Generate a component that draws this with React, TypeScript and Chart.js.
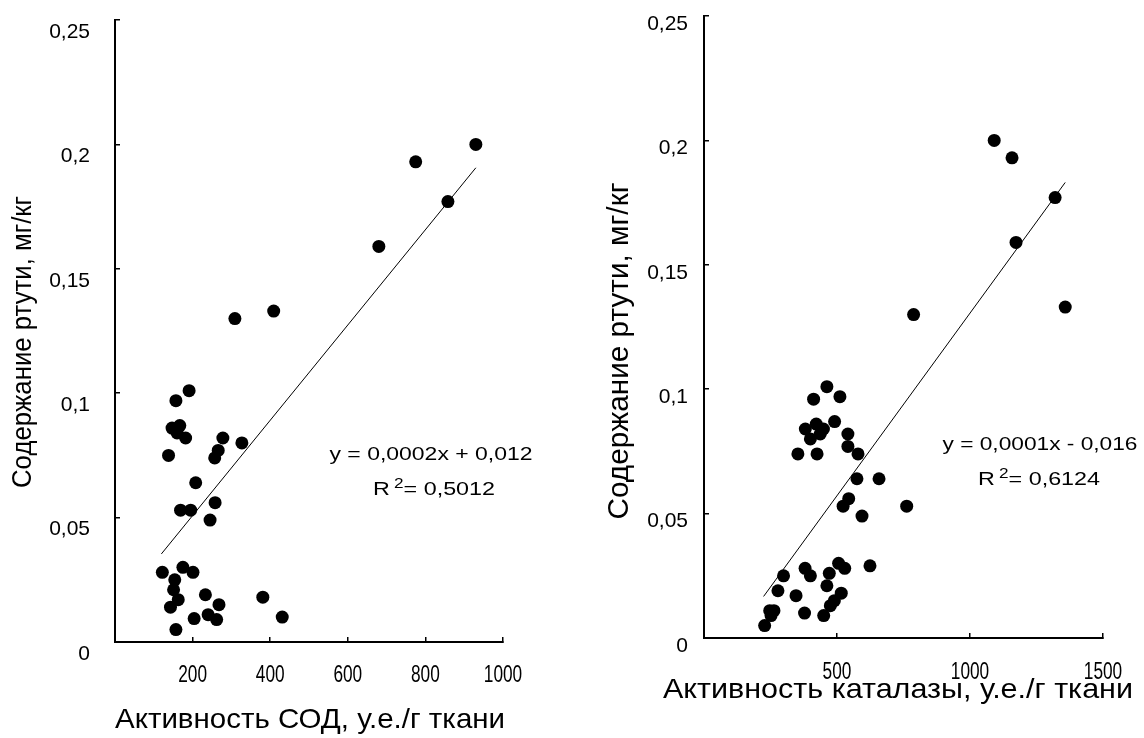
import React, { useEffect, useRef } from "react";
import { Chart, registerables } from "chart.js";

Chart.register(...registerables);

// ---------- DATA ----------
const sodX = [930, 775, 858, 680, 309, 409, 191, 157, 147, 167, 160, 182, 138, 278, 266, 257, 327, 208, 169, 195, 258, 245, 122, 175, 201, 154, 151, 163, 143, 233, 268, 240, 262, 204, 157, 381, 431];
const sodY = [0.2, 0.193, 0.177, 0.159, 0.13, 0.133, 0.101, 0.097, 0.086, 0.087, 0.084, 0.082, 0.075, 0.082, 0.077, 0.074, 0.08, 0.064, 0.053, 0.053, 0.056, 0.049, 0.028, 0.03, 0.028, 0.025, 0.021, 0.017, 0.014, 0.019, 0.015, 0.011, 0.009, 0.0094, 0.005, 0.018, 0.01];
const sodTrendX = [119.5, 930];
const sodTrendY = [0.0354, 0.1906];

const catX = [1091, 1158, 1320, 1173, 1358, 788, 462, 412, 511, 491, 381, 422, 449, 400, 437, 541, 541, 579, 353, 425, 575, 658, 544, 523, 762, 594, 380, 400, 506, 529, 624, 299, 471, 462, 278, 346, 516, 490, 475, 247, 263, 252, 378, 450, 228];
const catY = [0.2, 0.193, 0.177, 0.159, 0.133, 0.13, 0.101, 0.096, 0.097, 0.087, 0.084, 0.086, 0.084, 0.08, 0.082, 0.082, 0.077, 0.074, 0.074, 0.074, 0.064, 0.064, 0.056, 0.053, 0.053, 0.049, 0.028, 0.025, 0.03, 0.028, 0.029, 0.025, 0.026, 0.021, 0.019, 0.017, 0.018, 0.015, 0.013, 0.011, 0.011, 0.009, 0.01, 0.009, 0.005];
const catTrendX = [224, 1358];
const catTrendY = [0.0167, 0.1831];

const yTickValues = [0, 0.05, 0.1, 0.15, 0.2, 0.25];
const yTickLabels = ["0", "0,05", "0,1", "0,15", "0,2", "0,25"];
const sodXTickValues = [0, 200, 400, 600, 800, 1000];
const sodXTickLabels = ["", "200", "400", "600", "800", "1000"];
const catXTickValues = [0, 500, 1000, 1500];
const catXTickLabels = ["", "500", "1000", "1500"];

const yTitle = "Содержание ртути, мг/кг";
const sodXTitle = "Активность СОД, у.е./г ткани";
const catXTitle = "Активность каталазы, у.е./г ткани";
const sodEquation = "y = 0,0002x + 0,012";
const sodR2 = "0,5012";
const catEquation = "y = 0,0001x - 0,016";
const catR2 = "0,6124";

// ---------- RENDERING ----------
const FONT = 'Arial, "Liberation Sans", sans-serif';

type TextItem = {
  kind: "text" | "r2";
  text: string;
  x: number;
  y: number;
  size: number;
  width: number;
  rotate?: boolean;
};

function drawTextItem(ctx: CanvasRenderingContext2D, t: TextItem) {
  ctx.save();
  ctx.fillStyle = "#000";
  ctx.textBaseline = "middle";
  ctx.textAlign = "left";
  ctx.translate(t.x, t.y);
  if (t.rotate) ctx.rotate(-Math.PI / 2);
  if (t.kind === "text") {
    ctx.font = `${t.size}px ${FONT}`;
    const w = ctx.measureText(t.text).width;
    ctx.scale(t.width / w, 1);
    ctx.fillText(t.text, -w / 2, 0);
  } else {
    const big = `${t.size}px ${FONT}`;
    const small = `${Math.round(t.size * 0.75)}px ${FONT}`;
    ctx.font = big;
    const wR = ctx.measureText("R").width;
    const gap = t.size * 0.18;
    const rest = "= " + t.text;
    const wRest = ctx.measureText(rest).width;
    ctx.font = small;
    const w2 = ctx.measureText("2").width;
    const total = wR + gap + w2 + wRest;
    ctx.scale(t.width / total, 1);
    let cx = -total / 2;
    ctx.font = big;
    ctx.fillText("R", cx, 0);
    cx += wR + gap;
    ctx.font = small;
    ctx.fillText("2", cx, -t.size * 0.32);
    cx += w2;
    ctx.font = big;
    ctx.fillText(rest, cx, 0);
  }
  ctx.restore();
}

type PanelCfg = {
  id: string;
  offsetLeft: number;
  canvasWidth: number;
  areaLeft: number;
  areaRight: number;
  areaTop: number;
  areaBottom: number;
  xs: number[];
  ys: number[];
  trendX: number[];
  trendY: number[];
  xMax: number;
  xTickValues: number[];
  xTickLabels: string[];
  xLabelDy: number;
  xLabelSize: number;
  xLabelCondense: number;
  yTickPadding: number;
  yLabelOffset: number;
  texts: TextItem[];
};

const H = 738;

function Panel({ cfg }: { cfg: PanelCfg }) {
  const ref = useRef<HTMLCanvasElement>(null);
  useEffect(() => {
    const canvas = ref.current!;
    const textPlugin = {
      id: "texts_" + cfg.id,
      afterDraw(chart: any) {
        const ctx = chart.ctx as CanvasRenderingContext2D;
        // x tick labels, placed through the x scale
        const xs = chart.scales.x;
        ctx.save();
        ctx.fillStyle = "#000";
        ctx.font = `${cfg.xLabelSize}px ${FONT}`;
        ctx.textBaseline = "middle";
        ctx.textAlign = "center";
        cfg.xTickValues.forEach((v, i) => {
          const label = cfg.xTickLabels[i];
          if (!label) return;
          const px = xs.getPixelForValue(v);
          ctx.save();
          ctx.translate(px, xs.top + cfg.xLabelDy);
          ctx.scale(cfg.xLabelCondense, 1);
          ctx.fillText(label, 0, 0);
          ctx.restore();
        });
        ctx.restore();
        cfg.texts.forEach((t) => drawTextItem(ctx, t));
      },
    };
    const points = cfg.xs.map((x, i) => ({ x, y: cfg.ys[i] }));
    const trend = cfg.trendX.map((x, i) => ({ x, y: cfg.trendY[i] }));
    const chart = new Chart(canvas, {
      type: "scatter",
      data: {
        datasets: [
          {
            data: trend,
            showLine: true,
            borderColor: "#000",
            borderWidth: 1,
            pointRadius: 0,
            fill: false,
          } as any,
          {
            data: points,
            backgroundColor: "#000",
            borderColor: "#000",
            borderWidth: 0,
            pointRadius: 6.5,
          },
        ],
      },
      options: {
        responsive: false,
        animation: false,
        events: [],
        layout: {
          padding: {
            left: 0,
            top: cfg.areaTop,
            right: cfg.canvasWidth - cfg.areaRight,
            bottom: 0,
          },
        },
        plugins: {
          legend: { display: false },
          tooltip: { enabled: false },
        },
        scales: {
          x: {
            type: "linear",
            position: "bottom",
            min: 0,
            max: cfg.xMax,
            afterBuildTicks: (s: any) => {
              s.ticks = cfg.xTickValues.map((v) => ({ value: v }));
            },
            afterFit: (s: any) => {
              s.height = H - cfg.areaBottom;
              s.paddingLeft = 0;
              s.paddingRight = 0;
              s.paddingTop = 0;
              s.paddingBottom = 0;
            },
            ticks: { display: false, autoSkip: false },
            grid: {
              drawOnChartArea: false,
              drawTicks: true,
              tickLength: -5,
              color: "#000",
              lineWidth: 1.5,
            },
            border: { display: true, color: "#000", width: 2 },
          },
          y: {
            type: "linear",
            position: "left",
            min: 0,
            max: 0.25,
            afterBuildTicks: (s: any) => {
              s.ticks = yTickValues.map((v) => ({ value: v }));
            },
            afterFit: (s: any) => {
              s.width = cfg.areaLeft;
              s.paddingLeft = 0;
              s.paddingRight = 0;
              s.paddingTop = 0;
              s.paddingBottom = 0;
            },
            ticks: {
              autoSkip: false,
              color: "#000",
              font: { family: FONT, size: 21 },
              padding: cfg.yTickPadding,
              labelOffset: cfg.yLabelOffset,
              callback: (v: any) => {
                const i = yTickValues.findIndex((t) => Math.abs(t - Number(v)) < 1e-9);
                return i >= 0 ? yTickLabels[i] : "";
              },
            },
            grid: {
              drawOnChartArea: false,
              drawTicks: true,
              tickLength: -5,
              color: "#000",
              lineWidth: 1.5,
            },
            border: { display: true, color: "#000", width: 2 },
          },
        },
      } as any,
      plugins: [textPlugin],
    });
    return () => chart.destroy();
  }, []);
  return (
    <canvas
      ref={ref}
      width={cfg.canvasWidth}
      height={H}
      style={{
        position: "absolute",
        left: cfg.offsetLeft,
        top: 0,
        width: cfg.canvasWidth,
        height: H,
        display: "block",
      }}
    />
  );
}

const leftCfg: PanelCfg = {
  id: "sod",
  offsetLeft: 0,
  canvasWidth: 572,
  areaLeft: 115,
  areaRight: 503,
  areaTop: 20,
  areaBottom: 642,
  xs: sodX,
  ys: sodY,
  trendX: sodTrendX,
  trendY: sodTrendY,
  xMax: 1000,
  xTickValues: sodXTickValues,
  xTickLabels: sodXTickLabels,
  xLabelDy: 33,
  xLabelSize: 24,
  xLabelCondense: 0.72,
  yTickPadding: 30,
  yLabelOffset: 12,
  texts: [
    { kind: "text", text: yTitle, x: 24, y: 342, size: 27, width: 292, rotate: true },
    { kind: "text", text: sodXTitle, x: 310, y: 720, size: 28, width: 390 },
    { kind: "text", text: sodEquation, x: 431, y: 455, size: 19, width: 203 },
    { kind: "r2", text: sodR2, x: 434, y: 490, size: 19, width: 122 },
  ],
};

const rightCfg: PanelCfg = {
  id: "cat",
  offsetLeft: 572,
  canvasWidth: 572,
  areaLeft: 132,
  areaRight: 531,
  areaTop: 16,
  areaBottom: 638,
  xs: catX,
  ys: catY,
  trendX: catTrendX,
  trendY: catTrendY,
  xMax: 1500,
  xTickValues: catXTickValues,
  xTickLabels: catXTickLabels,
  xLabelDy: 34,
  xLabelSize: 24,
  xLabelCondense: 0.72,
  yTickPadding: 21,
  yLabelOffset: 8,
  texts: [
    { kind: "text", text: yTitle, x: 48, y: 351, size: 30, width: 337, rotate: true },
    { kind: "text", text: catXTitle, x: 326, y: 690, size: 28, width: 470 },
    { kind: "text", text: catEquation, x: 468, y: 445, size: 19, width: 195 },
    { kind: "r2", text: catR2, x: 467, y: 480, size: 19, width: 122 },
  ],
};

export default function App() {
  return (
    <div
      style={{
        position: "absolute",
        left: 0,
        top: 0,
        width: 1144,
        height: 738,
        background: "#fff",
        overflow: "hidden",
      }}
    >
      <Panel cfg={leftCfg} />
      <Panel cfg={rightCfg} />
    </div>
  );
}
